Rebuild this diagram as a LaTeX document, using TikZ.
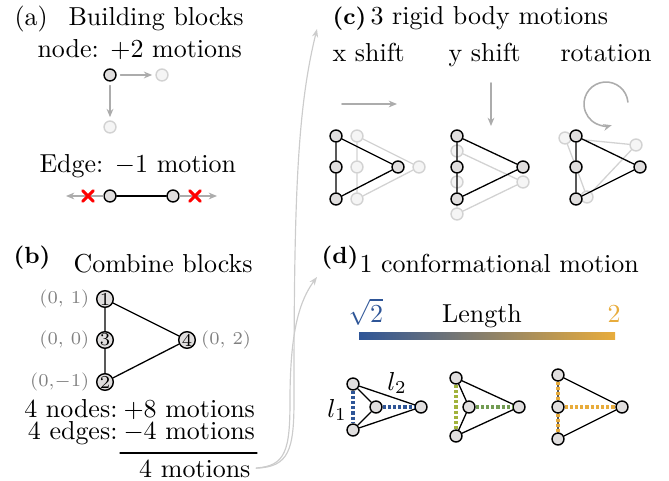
\documentclass[tikz,border=0pt]{standalone}
\usepackage{amsmath}
\usetikzlibrary{arrows.meta,calc,positioning,shapes.misc}
\definecolor{lenBlue}{HTML}{2E5597}
\definecolor{lenGreen}{HTML}{8AB43C}
\definecolor{lenOrange}{HTML}{E8AC3C}
\definecolor{vtxFill}{HTML}{E0DEDE}

\begin{document}
\begin{tikzpicture}[
  x=0.385pt, y=-0.385pt,
  >=Stealth,
  line cap=round,
  txt/.style={inner sep=0pt, anchor=base west},
  panel/.style={txt, font=\bfseries\small},
  vtx/.style={circle, draw=black, fill=vtxFill, line width=0.55pt, minimum size=4.6pt, inner sep=0pt},
  ghost/.style={circle, draw=gray!35, fill=gray!8, line width=0.55pt, minimum size=4.6pt, inner sep=0pt},
  numvtx/.style={vtx, minimum size=6.4pt, font=\scriptsize},
  coordlbl/.style={inner sep=0pt, text=black!50, font=\scriptsize},
  bar/.style={line width=0.5pt},
  ghostbar/.style={gray!35, line width=0.5pt},
  motion/.style={->, gray!65, line width=0.6pt, >={Stealth[length=3.2pt,width=2.6pt]}},
  flow/.style={->, gray!40, line width=0.45pt, >={Stealth[length=3.2pt,width=2.4pt]}},
  nope/.style={cross out, draw=red, line width=1.1pt, minimum size=3pt, inner sep=0pt},
  len/.style={line width=1.2pt, dash pattern=on 1.2pt off 0.8pt, line cap=butt}
]
  \useasboundingbox (0,0) rectangle (669,481);

  % (a) Building blocks
  \node[txt] (labA) at (14,26) {(a)};
  \node[txt] (titA) at (68,26) {Building blocks};
  \node[txt] (nodeTxt) at (37,58) {node: $+2$ motions};

  \node[vtx] (a0) at (110,75) {};
  \node[ghost] (ax) at (162,75) {};
  \node[ghost] (ay) at (110,127) {};
  \draw[motion, shorten <=1.5pt, shorten >=1.2pt] (a0) -- (ax);
  \draw[motion, shorten <=1.5pt, shorten >=1.2pt] (a0) -- (ay);

  \node[txt] (edgeTxt) at (39,173) {Edge: $-1$ motion};
  \node[vtx] (e1) at (110,196) {};
  \node[vtx] (e2) at (173,196) {};
  \coordinate (eL) at (66,196);
  \coordinate (eR) at (217,196);
  \draw[bar] (e1) -- (e2);
  \draw[motion] (e1) -- (eL);
  \draw[motion] (e2) -- (eR);
  \node[nope] (xL) at (88,196) {};
  \node[nope] (xR) at (195,196) {};

  % (b) Combine blocks
  \node[panel] (labB) at (13,263) {(b)};
  \node[txt] (titB) at (73,273) {Combine blocks};

  \node[numvtx] (b1) at (105,299) {1};
  \node[numvtx] (b3) at (105,340) {3};
  \node[numvtx] (b2) at (105,382) {2};
  \node[numvtx] (b4) at (187,340) {4};
  \draw[bar] (b1) -- (b3) -- (b2) -- (b4) -- (b1);
  \node[coordlbl, left=2.4pt of b1] (p1) {(0,~1)};
  \node[coordlbl, left=2.4pt of b3] (p3) {(0,~0)};
  \node[coordlbl, left=2.4pt of b2] (p2) {(0,$-$1)};
  \node[coordlbl, right=1.8pt of b4] (p4) {(0,~2)};

  \node[txt, anchor=base east] (nN) at (118,417) {4 nodes:};
  \node[txt] (nM) at (123,417) {$+8$ motions};
  \node[txt, anchor=base east] (eN) at (118,439) {4 edges:};
  \node[txt] (eM) at (123,439) {$-4$ motions};
  \coordinate (ruleL) at (120,453);
  \coordinate (ruleR) at (257,453);
  \draw[bar] (ruleL) -- (ruleR);
  \node[txt, anchor=base east] (total) at (251,477) {4 motions};

  % arrows from the sum to (c) and (d)
  \coordinate (toC) at (317,29);
  \coordinate (toD) at (317,277);
  \draw[flow, shorten <=2pt] (total.east) .. controls (289,467) and (294,450) .. (294,400)
    .. controls (294,200) and (297,110) .. (toC);
  \draw[flow, shorten <=2pt] (total.east) .. controls (286,466) and (290,450) .. (290,400)
    .. controls (290,330) and (300,300) .. (toD);

  % (c) 3 rigid body motions
  \node[panel] (labC) at (332,25) {(c)};
  \node[txt] (titC) at (370,25) {3 rigid body motions};
  \node[txt] (xsTxt) at (332,62) {x shift};
  \node[txt] (ysTxt) at (448,62) {y shift};
  \node[txt] (rotTxt) at (560,62) {rotation};

  % x shift
  \coordinate (xs0) at (342,104);
  \coordinate (xs1) at (397,104);
  \draw[motion] (xs0) -- (xs1);
  \node[ghost] (xg1) at (357,136) {};
  \node[ghost] (xg3) at (357,167) {};
  \node[ghost] (xg2) at (357,199) {};
  \node[ghost] (xg4) at (419,167) {};
  \draw[ghostbar] (xg1) -- (xg3) -- (xg2) -- (xg4) -- (xg1);
  \node[vtx] (x1) at (336,136) {};
  \node[vtx] (x3) at (336,167) {};
  \node[vtx] (x2) at (336,199) {};
  \node[vtx] (x4) at (398,167) {};
  \draw[bar] (x1) -- (x3) -- (x2) -- (x4) -- (x1);

  % y shift
  \coordinate (ys0) at (491,83);
  \coordinate (ys1) at (491,126);
  \draw[motion] (ys0) -- (ys1);
  \node[ghost] (yg1) at (457,151) {};
  \node[ghost] (yg3) at (457,182) {};
  \node[ghost] (yg2) at (457,214) {};
  \node[ghost] (yg4) at (523,182) {};
  \draw[ghostbar] (yg1) -- (yg3) -- (yg2) -- (yg4) -- (yg1);
  \node[vtx] (y1) at (457,136) {};
  \node[vtx] (y3) at (457,167) {};
  \node[vtx] (y2) at (457,199) {};
  \node[vtx] (y4) at (523,167) {};
  \draw[bar] (y1) -- (y3) -- (y2) -- (y4) -- (y1);

  % rotation
  \coordinate (rotC) at (606,104);
  \draw[motion] (rotC) ++(-5:22) arc[start angle=-5, end angle=-285, radius=22];
  \node[ghost] (rg1) at (565,138) {};
  \node[ghost] (rg3) at (576,167) {};
  \node[ghost] (rg2) at (587,197) {};
  \node[ghost] (rg4) at (636,145) {};
  \draw[ghostbar] (rg1) -- (rg3) -- (rg2) -- (rg4) -- (rg1);
  \node[vtx] (r1) at (576,136) {};
  \node[vtx] (r3) at (576,167) {};
  \node[vtx] (r2) at (576,199) {};
  \node[vtx] (r4) at (640,167) {};
  \draw[bar] (r1) -- (r3) -- (r2) -- (r4) -- (r1);

  % (d) 1 conformational motion
  \node[panel] (labD) at (321,263) {(d)};
  \node[txt] (titD) at (359,272) {1 conformational motion};

  \node[txt, text=lenBlue] (lenMin) at (348,322) {$\sqrt{2}$};
  \node[txt, anchor=base] (lenTxt) at (482,322) {Length};
  \node[txt, text=lenOrange] (lenMax) at (607,322) {$2$};
  \shade[left color=lenBlue, middle color=lenGreen, right color=lenOrange] (359,332) rectangle (615,339);

  % conformation 1
  \node[vtx] (u1) at (353,384) {};
  \node[vtx] (u2) at (353,430) {};
  \node[vtx] (u3) at (376,407) {};
  \node[vtx] (u4) at (421,407) {};
  \draw[len, lenBlue] (u1) -- (u2);
  \draw[len, lenBlue] (u3) -- (u4);
  \draw[bar] (u1) -- (u3) -- (u2) -- (u4) -- (u1);
  \node (l1) at (337,410) {$l_1$};
  \node (l2) at (397,383) {$l_2$};

  % conformation 2
  \node[vtx] (v1) at (456,378) {};
  \node[vtx] (v2) at (456,436) {};
  \node[vtx] (v3) at (469,407) {};
  \node[vtx] (v4) at (519,407) {};
  \draw[len, lenGreen!75!lenOrange] (v1) -- (v2);
  \draw[len, lenBlue!25!lenGreen] (v3) -- (v4);
  \draw[bar] (v1) -- (v3) -- (v2) -- (v4) -- (v1);

  % conformation 3
  \node[vtx] (w1) at (558,375) {};
  \node[vtx] (w3) at (558,407) {};
  \node[vtx] (w2) at (558,439) {};
  \node[vtx] (w4) at (622,407) {};
  \draw[bar] (w1) -- (w3) -- (w2) -- (w4) -- (w1);
  \draw[len, lenOrange, xshift=-0.9pt] (w1) -- (w3);
  \draw[len, lenOrange, xshift=-0.9pt] (w3) -- (w2);
  \draw[len, lenOrange] (w3) -- (w4);
\end{tikzpicture}
\end{document}
